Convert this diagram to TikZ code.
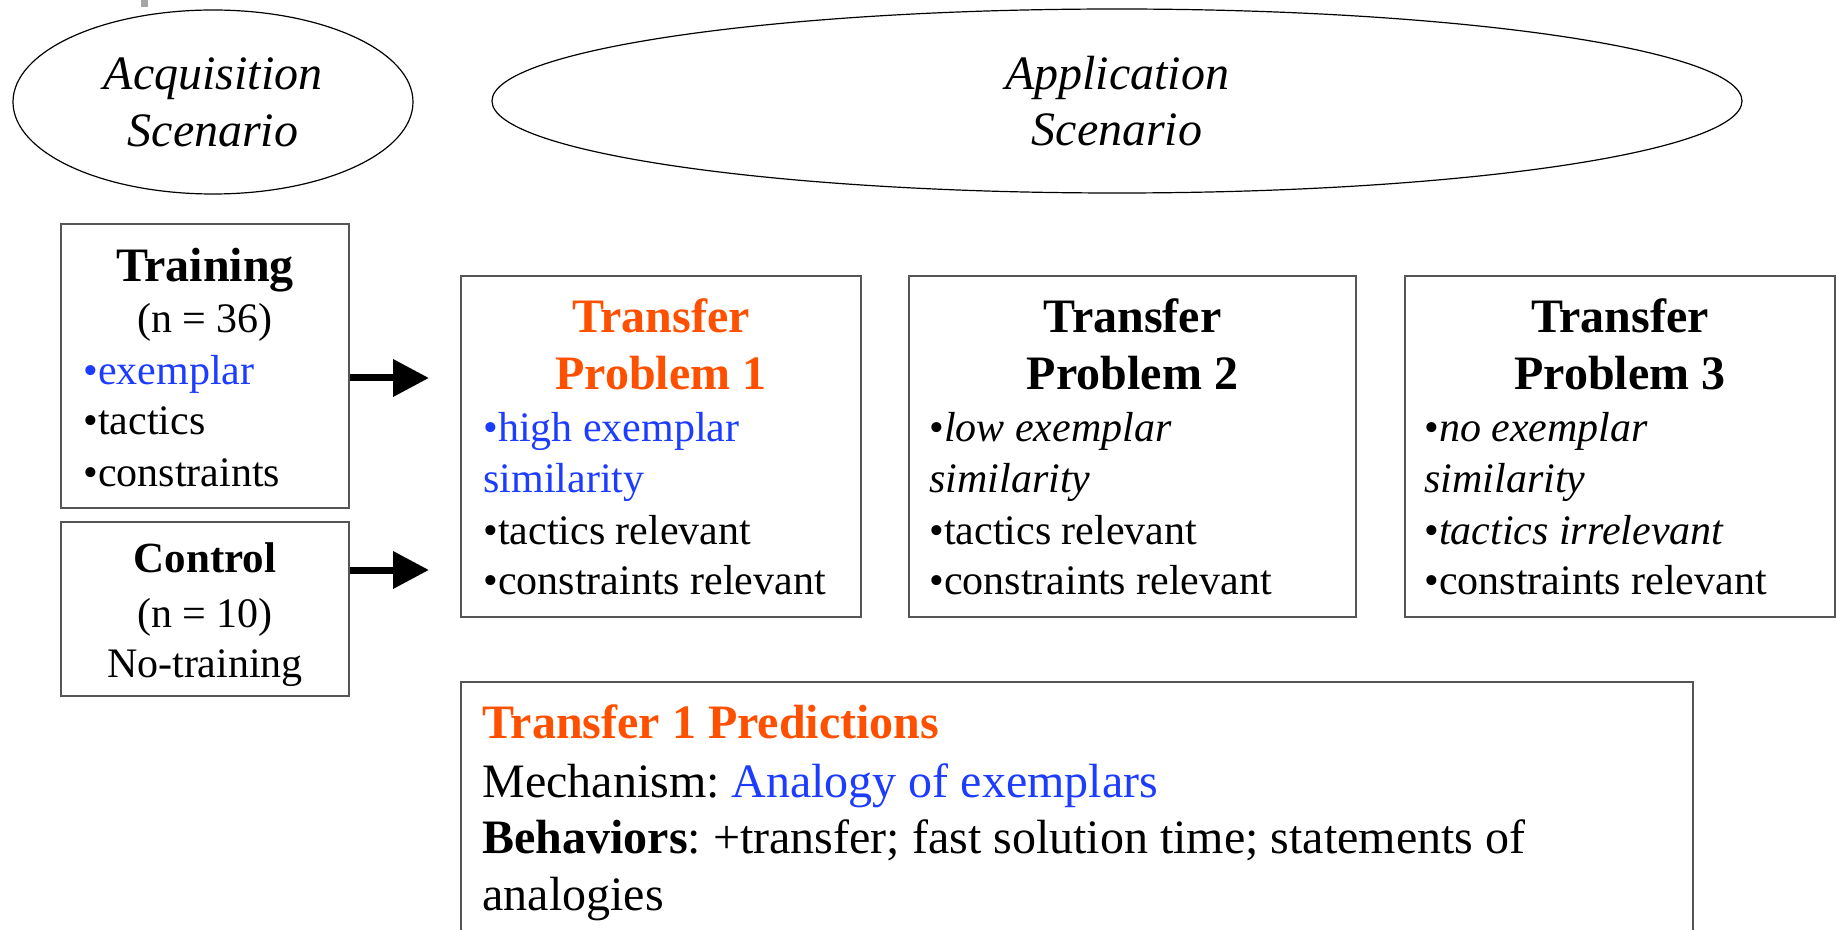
\documentclass[tikz,border=0pt]{standalone}
\usepackage{fontspec}
\setmainfont{Liberation Serif}
\usetikzlibrary{arrows.meta,shapes.geometric}
\definecolor{tor}{HTML}{FF5000}
\definecolor{tbl}{HTML}{1C3CFF}
\definecolor{bgray}{HTML}{555555}
\frenchspacing
\begin{document}
\begin{tikzpicture}[x=0.5pt,y=-0.5pt,
  box/.style={draw=bgray,line width=0.8pt,rectangle,inner sep=0pt},
  ell/.style={draw=black,line width=0.6pt,ellipse,inner sep=0pt},
  bt/.style={font=\fontsize{21}{25}\selectfont,inner sep=0pt},
  bbt/.style={font=\fontsize{24}{28}\selectfont,inner sep=0pt},
  hd/.style={font=\fontsize{24}{28}\selectfont\bfseries,inner sep=0pt},
  hds/.style={font=\fontsize{21.5}{25}\selectfont\bfseries,inner sep=0pt},
  et/.style={font=\fontsize{24}{28}\selectfont\itshape,inner sep=0pt},
  arr/.style={line width=3.5pt,-{Triangle[length=18pt,width=18pt]}}]
\clip (0,0) rectangle (1837,930);
\fill[gray!70] (141,0) rectangle (148,7);
% ellipses
\node[ell,minimum width=200pt,minimum height=92pt] (acq) at (213,102) {};
\node[et,anchor=base] (acq1) at (213,90) {Acquisition};
\node[et,anchor=base] (acq2) at (213,147) {Scenario};
\node[ell,minimum width=625pt,minimum height=92pt] (app) at (1117,101) {};
\node[et,anchor=base] (app1) at (1117,90) {Application};
\node[et,anchor=base] (app2) at (1117,146) {Scenario};
% training
\node[box,minimum width=144pt,minimum height=142pt] (tr) at (205,366) {};
\node[hd,anchor=base] (tr1) at (205,282) {Training};
\node[bt,anchor=base] (tr2) at (205,333) {(n = 36)};
\node[bt,anchor=base west,text=tbl] (tr3) at (83,385) {•exemplar};
\node[bt,anchor=base west] (tr4) at (83,435) {•tactics};
\node[bt,anchor=base west] (tr5) at (83,487) {•constraints};
% control
\node[box,minimum width=144pt,minimum height=87pt] (co) at (205,609) {};
\node[hds,anchor=base] (co1) at (205,573) {Control};
\node[bt,anchor=base] (co2) at (205,627) {(n = 10)};
\node[bt,anchor=base] (co3) at (205,677) {No-training};
% arrows
\coordinate (a1) at (429,378);
\coordinate (a2) at (429,570);
\draw[arr] (tr.east |- a1) -- (a1);
\draw[arr] (co.east |- a2) -- (a2);
% transfer 1
\node[box,minimum width=200pt,minimum height=170.5pt] (p1) at (661,446.5) {};
\node[hd,anchor=base,text=tor] (p1a) at (661,333) {Transfer};
\node[hd,anchor=base,text=tor] (p1b) at (661,390) {Problem 1};
\node[bt,anchor=base west,text=tbl] (p1c) at (483,442) {•high exemplar};
\node[bt,anchor=base west,text=tbl] (p1d) at (483,493) {similarity};
\node[bt,anchor=base west] (p1e) at (483,545) {•tactics relevant};
\node[bt,anchor=base west] (p1f) at (483,595) {•constraints relevant};
% transfer 2
\node[box,minimum width=223.5pt,minimum height=170.5pt] (p2) at (1132.5,446.5) {};
\node[hd,anchor=base] (p2a) at (1132.5,333) {Transfer};
\node[hd,anchor=base] (p2b) at (1132.5,390) {Problem 2};
\node[bt,anchor=base west] (p2c) at (929,442) {•\textit{low exemplar}};
\node[bt,anchor=base west] (p2d) at (929,493) {\textit{similarity}};
\node[bt,anchor=base west] (p2e) at (929,545) {•tactics relevant};
\node[bt,anchor=base west] (p2f) at (929,595) {•constraints relevant};
% transfer 3
\node[box,minimum width=215pt,minimum height=170.5pt] (p3) at (1620,446.5) {};
\node[hd,anchor=base] (p3a) at (1620,333) {Transfer};
\node[hd,anchor=base] (p3b) at (1620,390) {Problem 3};
\node[bt,anchor=base west] (p3c) at (1424,442) {•\textit{no exemplar}};
\node[bt,anchor=base west] (p3d) at (1424,493) {\textit{similarity}};
\node[bt,anchor=base west] (p3e) at (1424,545) {•\textit{tactics irrelevant}};
\node[bt,anchor=base west] (p3f) at (1424,595) {•constraints relevant};
% predictions
\node[box,minimum width=616pt,minimum height=134pt] (pr) at (1077,816) {};
\node[hd,anchor=base west,text=tor] (pr1) at (482,738) {Transfer 1 Predictions};
\node[bbt,anchor=base west] (pr2) at (482,797) {Mechanism: \textcolor{tbl}{Analogy of exemplars}};
\node[bbt,anchor=base west] (pr3) at (482,853) {\textbf{Behaviors}: +transfer; fast solution time; statements of};
\node[bbt,anchor=base west] (pr4) at (482,910) {analogies};
\end{tikzpicture}
\end{document}
